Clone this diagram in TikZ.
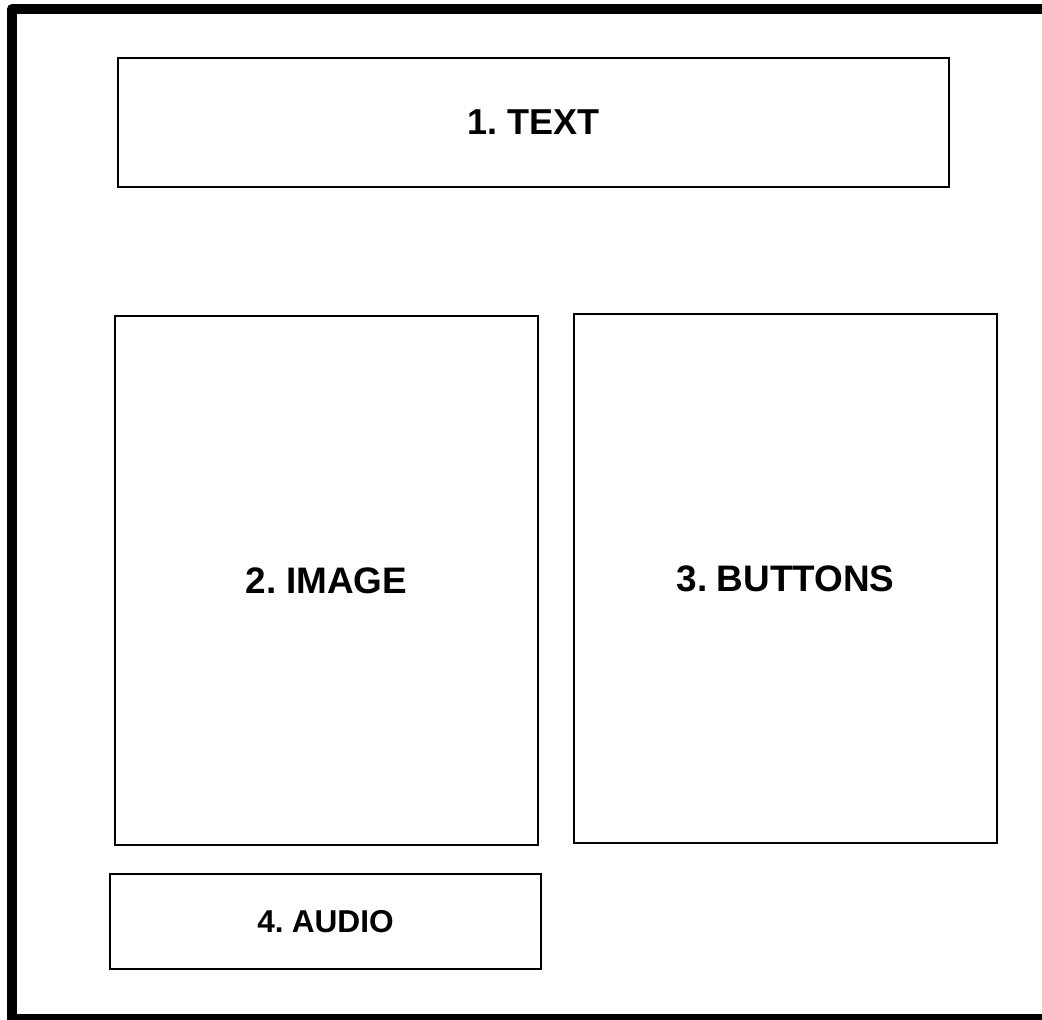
\documentclass[tikz,border=0pt]{standalone}
\usepackage{fontspec}
\setmainfont{Liberation Sans}[WordSpace=0.6]
\begin{document}
\begin{tikzpicture}[x=0.02cm,y=-0.02cm,
  panel/.style={draw,line width=0.045cm,inner sep=0pt,font=\bfseries\fontsize{21}{25}\selectfont},
  frame/.style={line width=0.2cm,line join=round}]
\useasboundingbox (0,0) rectangle (1042,1019);
% outer frame, open to the right
\begin{scope}
\clip (0,0) rectangle (1042,1019);
\coordinate (ftr) at (1080,9);
\coordinate (ftl) at (12,9);
\coordinate (fbl) at (12,1019);
\coordinate (fbr) at (1080,1019);
\draw[frame] (ftr) -- (ftl) -- (fbl) -- (fbr);
\end{scope}
% panels
\node[panel,minimum width=16.62cm,minimum height=2.58cm,font=\bfseries\fontsize{20.5}{24}\selectfont] (text) at (533.5,122.5) {1. TEXT};
\node[panel,minimum width=8.46cm,minimum height=10.58cm] (image) at (326.5,580.5) {2. IMAGE};
\node[panel,minimum width=8.46cm,minimum height=10.58cm] (buttons) at (785.5,578.5) {3. BUTTONS};
\node[panel,minimum width=8.62cm,minimum height=1.90cm,font=\bfseries\fontsize{18}{21}\selectfont] (audio) at (325.5,921.5) {4. AUDIO};
\end{tikzpicture}
\end{document}
